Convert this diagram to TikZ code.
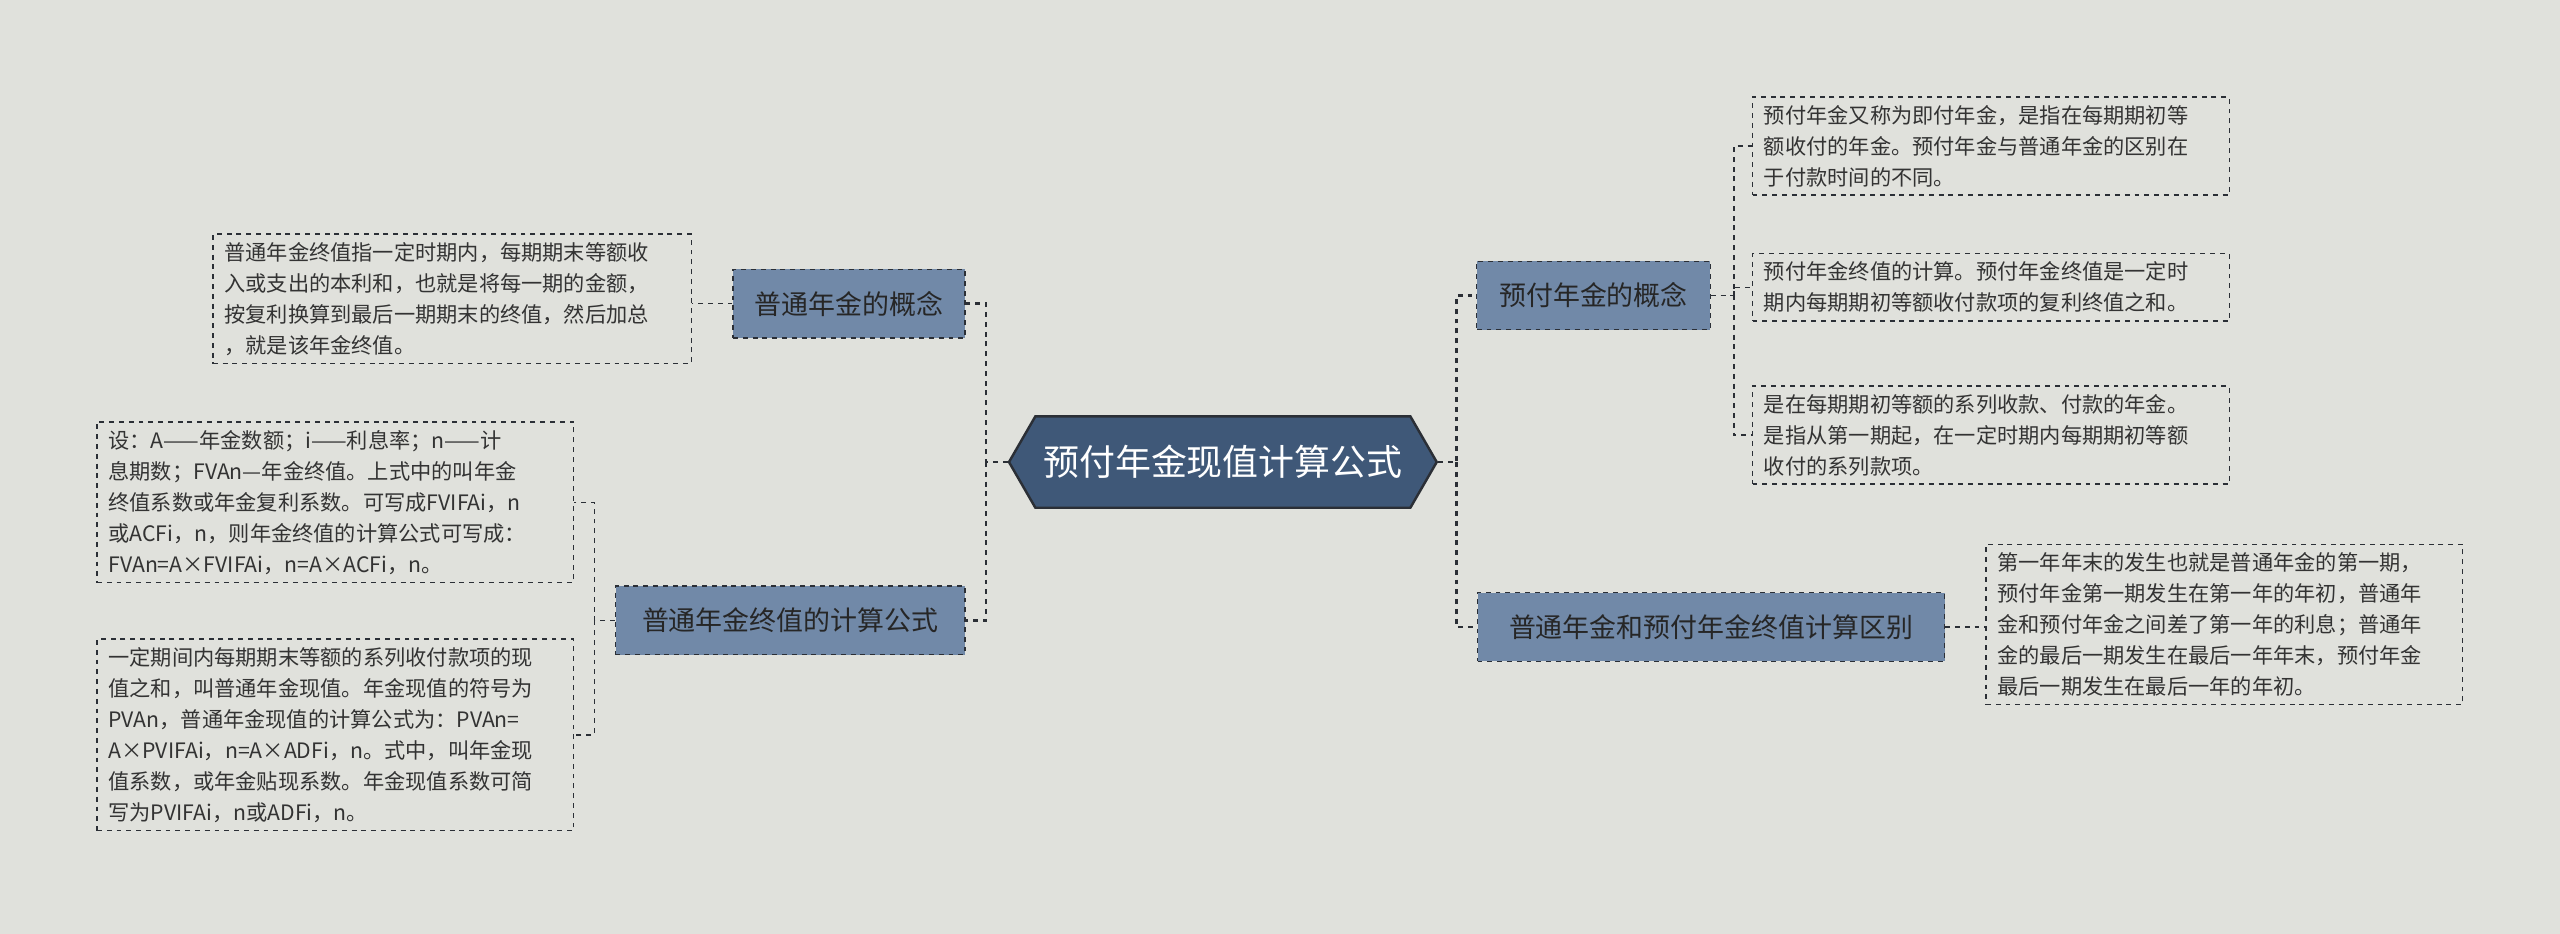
\documentclass[tikz,border=0pt]{standalone}
\usepackage{fontspec}
\newfontfamily\cjk{Noto Sans CJK SC}
\usetikzlibrary{shapes.geometric,shapes.symbols}
\definecolor{bg}{HTML}{E0E1DC}
\definecolor{cfill}{HTML}{3F5878}
\definecolor{bfill}{HTML}{7189A8}
\definecolor{ln}{HTML}{2B2F36}
\tikzset{
 leaf/.style={draw=ln, dashed, line width=0.8pt, anchor=north west, align=left, inner xsep=7pt, inner ysep=5pt, font=\cjk\fontsize{13}{19}\selectfont, text=black!80},
 branch/.style={draw=ln, dashed, line width=0.8pt, fill=bfill, font=\cjk\fontsize{16.5}{20}\selectfont, text=black!85, minimum height=42pt, inner xsep=9pt},
 conn/.style={draw=ln, dashed, line width=1.6pt},
 thin/.style={draw=ln, dashed, line width=0.9pt}
}
\begin{document}
\begin{tikzpicture}[x=1pt,y=-1pt]
\fill[bg] (0,0) rectangle (1568,572);
\useasboundingbox (0,0) rectangle (1568,572);
\node[signal, signal to=west and east, signal pointer angle=120, fill=cfill, draw=ln, line width=1.5pt, minimum width=262pt, minimum height=56pt, text=white, font=\cjk\fontsize{22}{26}\selectfont] (c) at (749,283) {预付年金现值计算公式};
\node[branch, minimum width=142pt] (b1) at (520,186) {普通年金的概念};
\node[branch, minimum width=214pt] (b2) at (484,380) {普通年金终值的计算公式};
\node[branch, minimum width=143pt] (b3) at (976,181) {预付年金的概念};
\node[branch, minimum width=286pt] (b4) at (1048,384) {普通年金和预付年金终值计算区别};
\node[leaf, text width=279pt] (l1) at (130,143) {普通年金终值指一定时期内，每期期末等额收\\入或支出的本利和，也就是将每一期的金额，\\按复利换算到最后一期期末的终值，然后加总\\，就是该年金终值。};
\node[leaf, text width=278pt] (l2) at (59,258) {设：A——年金数额；i——利息率；n——计\\息期数；FVAn—年金终值。上式中的叫年金\\终值系数或年金复利系数。可写成FVIFAi，n\\或ACFi，n，则年金终值的计算公式可写成：\\FVAn=A×FVIFAi，n=A×ACFi，n。};
\node[leaf, text width=278pt] (l3) at (59,391) {一定期间内每期期末等额的系列收付款项的现\\值之和，叫普通年金现值。年金现值的符号为\\PVAn，普通年金现值的计算公式为：PVAn=\\A×PVIFAi，n=A×ADFi，n。式中，叫年金现\\值系数，或年金贴现系数。年金现值系数可简\\写为PVIFAi，n或ADFi，n。};
\node[leaf, text width=278pt] (r1) at (1073,59) {预付年金又称为即付年金，是指在每期期初等\\额收付的年金。预付年金与普通年金的区别在\\于付款时间的不同。};
\node[leaf, text width=278pt] (r2) at (1073,155) {预付年金终值的计算。预付年金终值是一定时\\期内每期期初等额收付款项的复利终值之和。};
\node[leaf, text width=278pt] (r3) at (1073,236) {是在每期期初等额的系列收款、付款的年金。\\是指从第一期起，在一定时期内每期期初等额\\收付的系列款项。};
\node[leaf, text width=278pt] (r4) at (1216,333) {第一年年末的发生也就是普通年金的第一期，\\预付年金第一期发生在第一年的年初，普通年\\金和预付年金之间差了第一年的利息；普通年\\金的最后一期发生在最后一年年末，预付年金\\最后一期发生在最后一年的年初。};
\coordinate (cl) at (604,283);
\coordinate (cr) at (892,283);
\draw[conn] (c.west) -- (cl) |- (b1.east);
\draw[conn] (cl) |- (b2.east);
\draw[conn] (c.east) -- (cr) |- (b3.west);
\draw[conn] (cr) |- (b4.west);
\draw[thin] (b1.west) -- (l1.east |- b1.west);
\coordinate (k2) at (364,380);
\draw[thin] (b2.west) -- (k2) |- (l2.east);
\draw[thin] (k2) |- (l3.east);
\coordinate (k3) at (1062,181);
\draw[thin] (b3.east) -- (k3) |- (r1.west);
\draw[thin] (k3) |- (r2.west);
\draw[thin] (k3) |- (r3.west);
\draw[thin] (b4.east) -- (r4.west |- b4.east);
\end{tikzpicture}
\end{document}
